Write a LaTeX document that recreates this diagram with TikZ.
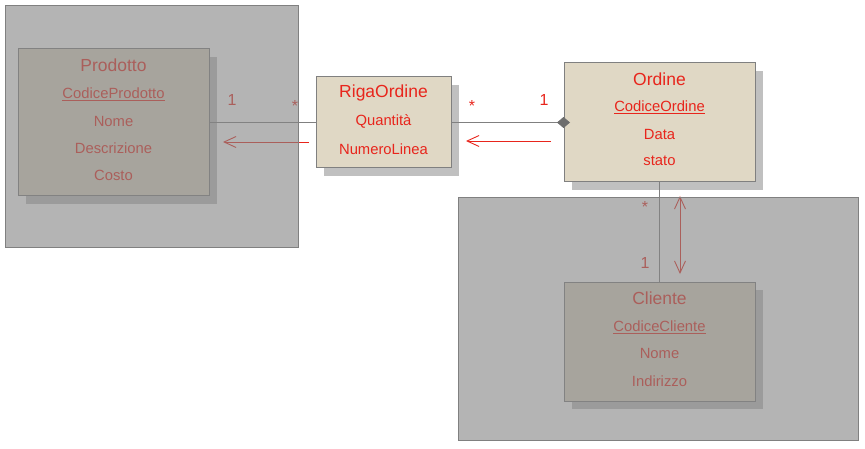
\documentclass[tikz,border=0pt]{standalone}
\usepackage{fontspec}
\setmainfont{Liberation Sans}
\usetikzlibrary{arrows.meta,shadows}
\definecolor{boxfill}{HTML}{E0D8C5}
\definecolor{boxline}{HTML}{808080}
\definecolor{shade}{HTML}{C0C0C0}
\definecolor{umlred}{HTML}{E8251C}
\definecolor{panelgray}{HTML}{848484}
\definecolor{diamondgray}{HTML}{6E6E6E}

\begin{document}
\begin{tikzpicture}[x=1pt, y=-1pt,
    classbox/.style={draw=boxline, fill=boxfill, line width=1pt, inner sep=0pt,
      drop shadow={shadow xshift=8pt, shadow yshift=-8pt, fill=shade, opacity=1}},
    title/.style={text=umlred, font=\fontsize{17.5}{20}\selectfont},
    attr/.style={text=umlred, font=\fontsize{14.8}{17}\selectfont},
    mult/.style={text=umlred, font=\fontsize{16}{18}\selectfont},
    assoc/.style={draw=boxline, line width=0.9pt},
    nav/.style={draw=umlred, line width=0.9pt},
    barb/.tip={Straight Barb[length=12pt, width=11pt]},
    panel/.style={fill=panelgray, fill opacity=0.61, draw=boxline, line width=1pt}]
    \useasboundingbox (0,0) rectangle (865,449);

    % classes
    \node[classbox, minimum width=191pt, minimum height=147pt] (prodotto) at (113.5,122.5) {};
    \node[classbox, minimum width=135pt, minimum height=91pt] (riga) at (383.5,122.5) {};
    \node[classbox, minimum width=191pt, minimum height=119pt] (ordine) at (659.5,122.5) {};
    \node[classbox, minimum width=191pt, minimum height=119pt] (cliente) at (659.5,341.5) {};

    \node[title] (prodottoT) at (113.5,65) {Prodotto};
    \node[attr] (prodottoA) at (113.5,94) {\underline{CodiceProdotto}};
    \node[attr] (prodottoB) at (113.5,121) {Nome};
    \node[attr] (prodottoC) at (113.5,148) {Descrizione};
    \node[attr] (prodottoD) at (113.5,175) {Costo};

    \node[title] (rigaT) at (383.5,93) {RigaOrdine};
    \node[attr] (rigaA) at (383.5,121) {Quantità};
    \node[attr] (rigaB) at (383.5,149) {NumeroLinea};

    \node[title] (ordineT) at (659.5,79) {Ordine};
    \node[attr] (ordineA) at (659.5,107) {\underline{CodiceOrdine}};
    \node[attr] (ordineB) at (659.5,134) {Data};
    \node[attr] (ordineC) at (659.5,161) {stato};

    \node[title] (clienteT) at (659.5,298) {Cliente};
    \node[attr] (clienteA) at (659.5,327) {\underline{CodiceCliente}};
    \node[attr] (clienteB) at (659.5,353) {Nome};
    \node[attr] (clienteC) at (659.5,381) {Indirizzo};

    % associations
    \draw[assoc] (prodotto.east) -- (riga.west);
    \draw[assoc, shorten >=-6.5pt,
      -{Diamond[length=13pt, width=11pt, fill=diamondgray, color=diamondgray]}] (riga.east) -- (ordine.west);
    \draw[assoc] (ordine.south) -- (cliente.north);

    \node[mult] (m1) at (232,100) {1};
    \node[mult] (m2) at (295,106) {*};
    \node[mult] (m3) at (472,106) {*};
    \node[mult] (m4) at (544,100) {1};
    \node[mult] (m5) at (645,207) {*};
    \node[mult] (m6) at (645,263) {1};

    % navigation
    \coordinate (navA) at (309,142);
    \coordinate (navB) at (223,142);
    \coordinate (navC) at (551,141);
    \coordinate (navD) at (466,141);
    \coordinate (navE) at (680,196);
    \coordinate (navF) at (680,274);
    \draw[nav, -barb] (navA) -- (navB);
    \draw[nav, -barb] (navC) -- (navD);
    \draw[nav, barb-barb] (navE) -- (navF);

    % packages on top
    \draw[panel] (5,6) rectangle (298,248);
    \draw[panel] (458,198) rectangle (858,440);
\end{tikzpicture}
\end{document}
